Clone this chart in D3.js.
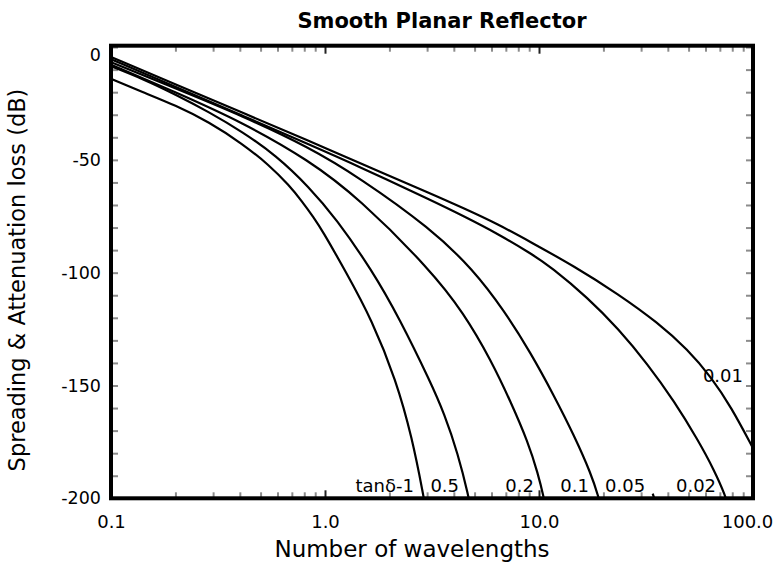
<!DOCTYPE html>
<html>
<head>
<meta charset="utf-8">
<script src="https://cdn.jsdelivr.net/npm/d3@7/dist/d3.min.js"></script>
<style>
  html, body { margin: 0; padding: 0; background: #ffffff; }
  svg { display: block; }
  text { font-family: "DejaVu Sans", Verdana, sans-serif; fill: #000; }
</style>
</head>
<body>
<script>
// Loss curves: [number of wavelengths, loss in dB] for each loss tangent
const loss_tan1 = [[0.1,-14.1],[0.14,-19.9],[0.2,-25.8],[0.287,-33.2],[0.41,-42.8],[0.547,-52.2],[0.68,-61.3],[0.78,-68.3],[0.888,-75.7],[0.968,-81.1],[1.25,-99.5],[1.66,-121.1],[2.15,-147.7],[2.55,-172.9],[2.9,-200],[2.93,-203]];
const loss_tan05 = [[0.1,-8.5],[0.14,-14.0],[0.2,-21.0],[0.287,-28.8],[0.41,-37.5],[0.59,-48.0],[0.842,-62.0],[1.126,-76.0],[1.66,-99.0],[2.22,-120.0],[3.13,-149.0],[3.6,-162.3],[4.18,-180.1],[4.71,-200],[4.75,-203]];
const loss_tan02 = [[0.1,-7.8],[0.2,-20.0],[0.41,-33.3],[0.842,-50.2],[1.44,-67.0],[3.1,-98.6],[4.46,-118.0],[5.97,-138.8],[7.4,-157.5],[8.88,-175.0],[9.89,-189.0],[10.55,-200],[10.65,-203]];
const loss_tan01 = [[0.1,-6.7],[0.2,-18.3],[0.41,-30.5],[0.842,-44.4],[1.44,-57.7],[3.13,-80.5],[4.92,-98.6],[6.86,-116.7],[9.17,-135.7],[11.75,-154.5],[14.57,-172.0],[17.5,-189.0],[19.06,-200],[19.3,-203]];
const loss_tan005 = [[34.0,-197.9],[34.9,-201.5]];
const loss_tan002 = [[0.1,-5.4],[0.2,-17.7],[0.41,-30.3],[0.842,-43.2],[1.44,-52.9],[3.13,-67.9],[4.46,-75.0],[6.43,-82.8],[9.17,-91.5],[11.38,-97.5],[16.94,-111.2],[23.39,-124.7],[32.3,-140.7],[42.76,-156.9],[55.34,-174.2],[65.77,-187.4],[74.82,-199.5],[75.8,-203]];
const loss_tan001 = [[0.1,-4.4],[0.2,-16.6],[0.41,-29.0],[0.842,-41.6],[1.44,-51.3],[3.13,-65.0],[4.46,-71.5],[6.43,-78.5],[9.17,-86.5],[14.57,-97.1],[23.39,-109.4],[35.97,-122.2],[49.68,-134.2],[63.64,-146.2],[78.9,-159.4],[100,-177.8]];

const seriesLabels = ["tan\u03b4-1", "0.5", "0.2", "0.1", "0.05", "0.02", "0.01"];
const seriesData = [loss_tan1, loss_tan05, loss_tan02, loss_tan01, loss_tan005, loss_tan002, loss_tan001];

const xTickValues = [0.1, 1, 10, 100];
const xTickLabels = ["0.1", "1.0", "10.0", "100.0"];
const yTickValues = [0, -50, -100, -150, -200];
const yTickLabels = ["0", "-50", "-100", "-150", "-200"];

const chartTitle = "Smooth Planar Reflector";
const xTitle = "Number of wavelengths";
const yTitle = "Spreading & Attenuation loss (dB)";

// Layout
const W = 775, H = 567;
const plotL = 111, plotR = 753, plotT = 45.7, plotB = 498.3;

const svg = d3.select("body").append("svg").attr("width", W).attr("height", H);

const x = d3.scaleLog().domain([0.1, 100]).range([plotL, plotR]);
const y = d3.scaleLinear().domain([0.6, -200]).range([plotT, plotB]);

// Minor ticks, drawn inward on all four sides
const xMinor = x.ticks().filter(v => !xTickValues.some(m => Math.abs(m - v) < 1e-9));
const yMinor = d3.range(-190, 0.1, 10);
const minorStyle = g => {
  g.select(".domain").remove();
  g.selectAll(".tick line").attr("stroke", "#8c8c8c").attr("stroke-width", 2);
};
const majorStyle = g => {
  g.select(".domain").remove();
  g.selectAll(".tick line").attr("stroke", "#222").attr("stroke-width", 2);
};

svg.append("g").attr("transform", `translate(0,${plotB})`)
  .call(d3.axisBottom(x).tickValues(xMinor).tickSize(-6).tickFormat("")).call(minorStyle);
svg.append("g").attr("transform", `translate(0,${plotT})`)
  .call(d3.axisTop(x).tickValues(xMinor).tickSize(-6).tickFormat("")).call(minorStyle);
svg.append("g").attr("transform", `translate(0,${plotB})`)
  .call(d3.axisBottom(x).tickValues(xTickValues.slice(1, -1)).tickSize(-8).tickFormat("")).call(majorStyle);
svg.append("g").attr("transform", `translate(0,${plotT})`)
  .call(d3.axisTop(x).tickValues(xTickValues.slice(1, -1)).tickSize(-8).tickFormat("")).call(majorStyle);
svg.append("g").attr("transform", `translate(${plotL},0)`)
  .call(d3.axisLeft(y).tickValues(yMinor).tickSize(-7).tickFormat("")).call(minorStyle);
svg.append("g").attr("transform", `translate(${plotR},0)`)
  .call(d3.axisRight(y).tickValues(yMinor).tickSize(-7).tickFormat("")).call(minorStyle);

// Tick labels
const xAxis = svg.append("g").attr("transform", `translate(0,${plotB})`)
  .call(d3.axisBottom(x).tickValues(xTickValues).tickSize(0).tickPadding(17)
    .tickFormat((d, i) => xTickLabels[i]));
xAxis.select(".domain").remove();
xAxis.selectAll("text").attr("font-size", 18).attr("font-family", "DejaVu Sans").attr("fill", "#000");
xAxis.selectAll(".tick:last-of-type text").attr("dx", -6);

const yAxis = svg.append("g").attr("transform", `translate(${plotL},0)`)
  .call(d3.axisLeft(y).tickValues(yTickValues).tickSize(0).tickPadding(10)
    .tickFormat((d, i) => yTickLabels[i]));
yAxis.select(".domain").remove();
yAxis.selectAll("text").attr("font-size", 17.5).attr("font-family", "DejaVu Sans").attr("fill", "#000");
yAxis.selectAll(".tick").filter(d => d === 0).select("text").attr("dy", "0.75em");

// Curves
svg.append("clipPath").attr("id", "plot-clip")
  .append("rect").attr("x", plotL).attr("y", plotT).attr("width", plotR - plotL).attr("height", plotB - plotT);

const line = d3.line()
  .x(d => x(d[0]))
  .y(d => y(d[1]))
  .curve(d3.curveBasis);

svg.append("g").attr("clip-path", "url(#plot-clip)")
  .selectAll("path").data(seriesData).join("path")
  .attr("d", line)
  .attr("fill", "none")
  .attr("stroke", "#000")
  .attr("stroke-width", 2.2)
  .attr("stroke-linejoin", "round");

// Curve labels next to where each curve meets the bottom edge
const labelG = svg.append("g").attr("font-size", 18);
seriesData.forEach((s, i) => {
  const last = s[s.length - 1];
  const isLast = i === seriesData.length - 1;
  if (isLast) {
    labelG.append("text")
      .attr("x", x(last[0]) - 10)
      .attr("y", y(-148.5))
      .attr("text-anchor", "end")
      .text(seriesLabels[i]);
  } else {
    const endPt = s.find(p => p[1] <= -199.5) || last;
    labelG.append("text")
      .attr("x", x(endPt[0]) - 10)
      .attr("y", y(-197))
      .attr("text-anchor", "end")
      .text(seriesLabels[i]);
  }
});

// Frame
svg.append("rect")
  .attr("x", plotL).attr("y", plotT)
  .attr("width", plotR - plotL).attr("height", plotB - plotT)
  .attr("fill", "none").attr("stroke", "#000").attr("stroke-width", 4);

// Titles
svg.append("text")
  .attr("x", 442).attr("y", 28)
  .attr("text-anchor", "middle")
  .attr("font-size", 21).attr("font-weight", "bold")
  .text(chartTitle);

svg.append("text")
  .attr("x", 412).attr("y", 557)
  .attr("text-anchor", "middle")
  .attr("font-size", 23)
  .text(xTitle);

svg.append("text")
  .attr("transform", "translate(25,280) rotate(-90)")
  .attr("text-anchor", "middle")
  .attr("font-size", 22.5)
  .text(yTitle);
</script>
</body>
</html>
